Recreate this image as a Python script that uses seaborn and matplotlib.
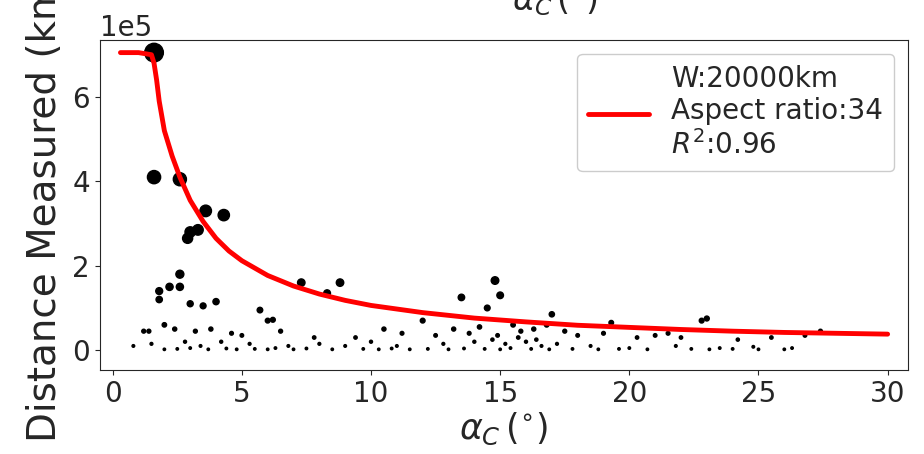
import numpy as np
import pandas as pd
import matplotlib
matplotlib.use("Agg")
import matplotlib.pyplot as plt
import seaborn as sns

# fitted curve
fit_x = [0.3, 1.0, 1.5, 1.6, 1.7, 1.8, 2.0, 2.3, 2.6, 3.0, 3.5, 4.0, 4.5, 5.0, 6.0, 7.0, 8.0, 9.0, 10.0,
         12.0, 14.0, 16.0, 18.0, 20.0, 22.0, 24.0, 26.0, 28.0, 30.0]
fit_y = [7.05e5, 7.05e5, 7.0e5, 6.8e5, 6.4e5, 5.9e5, 5.2e5, 4.6e5, 4.1e5, 3.55e5, 3.05e5, 2.65e5,
         2.35e5, 2.12e5, 1.77e5, 1.52e5, 1.33e5, 1.18e5, 1.06e5, 0.89e5, 0.76e5, 0.67e5,
         0.59e5, 0.54e5, 0.49e5, 0.45e5, 0.42e5, 0.4e5, 0.38e5]

# measured points
pts_x = [1.6, 1.6, 2.6, 2.9, 3.0, 3.3, 3.6, 4.3, 1.8, 1.8, 2.2, 2.6, 2.6, 3.0, 3.5, 4.0,
         7.3, 8.8, 8.3, 13.5, 14.8, 15.0, 14.5, 5.7, 6.0, 6.2, 12.0, 17.0, 19.3, 23.0, 22.8,
         1.2, 1.4, 2.0, 2.4, 3.2, 3.8, 4.6, 5.0, 6.5, 7.8, 9.4, 10.5, 11.2, 12.5, 13.2, 13.8,
         14.2, 15.5, 15.8, 16.3, 16.8, 17.5, 18.0, 19.0, 20.3, 21.0, 21.5, 22.0, 24.2, 25.5,
         26.8, 27.4, 0.8, 1.5, 2.8, 3.4, 4.2, 5.3, 6.8, 8.0, 9.0, 10.0, 11.0, 12.8, 14.0, 14.7,
         15.2, 16.0, 16.6, 17.2, 18.5, 20.0, 21.8, 23.5, 24.8, 26.3,
         2.0, 2.5, 3.0, 3.7, 4.4, 4.8, 5.5, 6.0, 6.3, 7.0, 7.5, 8.5, 9.7, 10.3, 10.8, 11.5,
         12.2, 13.0, 13.6, 14.4, 15.0, 15.4, 16.2, 16.9, 17.8, 18.8, 19.6, 20.7, 22.4, 23.1,
         24.0, 25.0, 26.0, 14.9, 15.7, 16.4]
pts_y = [7.05e5, 4.1e5, 4.05e5, 2.65e5, 2.8e5, 2.85e5, 3.3e5, 3.2e5, 1.4e5, 1.2e5, 1.5e5,
         1.8e5, 1.5e5, 1.1e5, 1.05e5, 1.15e5, 1.6e5, 1.6e5, 1.35e5, 1.25e5, 1.65e5, 1.3e5,
         1.0e5, 0.95e5, 0.7e5, 0.72e5, 0.7e5, 0.85e5, 0.65e5, 0.75e5, 0.7e5,
         0.45e5, 0.45e5, 0.6e5, 0.5e5, 0.45e5, 0.5e5, 0.4e5, 0.35e5, 0.45e5, 0.3e5, 0.3e5,
         0.5e5, 0.4e5, 0.35e5, 0.5e5, 0.4e5, 0.55e5, 0.6e5, 0.45e5, 0.5e5, 0.6e5, 0.45e5,
         0.35e5, 0.4e5, 0.3e5, 0.35e5, 0.4e5, 0.3e5, 0.25e5, 0.3e5, 0.35e5, 0.45e5,
         0.1e5, 0.15e5, 0.2e5, 0.1e5, 0.2e5, 0.15e5, 0.1e5, 0.15e5, 0.1e5, 0.2e5, 0.1e5,
         0.15e5, 0.2e5, 0.25e5, 0.15e5, 0.2e5, 0.1e5, 0.15e5, 0.1e5, 0.05e5, 0.1e5, 0.05e5,
         0.08e5, 0.05e5,
         0.02e5, 0.03e5, 0.05e5, 0.02e5, 0.04e5, 0.02e5, 0.03e5, 0.02e5, 0.05e5, 0.02e5,
         0.04e5, 0.02e5, 0.03e5, 0.02e5, 0.04e5, 0.02e5, 0.03e5, 0.02e5, 0.04e5, 0.03e5,
         0.02e5, 0.05e5, 0.03e5, 0.02e5, 0.03e5, 0.02e5, 0.03e5, 0.02e5, 0.03e5, 0.02e5,
         0.03e5, 0.02e5, 0.02e5, 0.35e5, 0.3e5, 0.25e5]

df = pd.DataFrame({"x": pts_x, "y": pts_y})
df["s"] = (df["y"] / 1e5) ** 1.3 * 14 + 3

sns.set_style("ticks")
plt.rcParams['font.family'] = ['DejaVu Sans']

fig = plt.figure(figsize=(9.24, 4.54), dpi=100)
ax = fig.add_axes([0.108, 0.185, 0.875, 0.727])

sns.lineplot(x=fit_x, y=fit_y, ax=ax, color="red", linewidth=3.5,
             label="W:20000km\nAspect ratio:34\n$R^2$:0.96", zorder=3)
ax.scatter(df["x"], df["y"], s=df["s"], color="black", zorder=2)

ax.set_xlim(-0.5, 30.8)
ax.set_ylim(-0.47e5, 7.35e5)
ax.set_xticks([0, 5, 10, 15, 20, 25, 30])
ax.set_yticks([0, 2e5, 4e5, 6e5])
ax.ticklabel_format(axis="y", style="sci", scilimits=(0, 0))
ax.tick_params(labelsize=20)
ax.yaxis.get_offset_text().set_fontsize(20)
ax.set_xlabel(r"$\alpha_C\,(^{\circ})$", fontsize=25, labelpad=2)
ax.set_ylabel("Distance Measured (km)", fontsize=28, labelpad=6)
fig.text(0.6, 1.0, r"$\alpha_C\,(^{\circ})$", fontsize=24, ha="center", va="center")
leg = ax.legend(loc="upper right", fontsize=20, handlelength=2.2, framealpha=1)

fig.savefig("out.png", dpi=100)
